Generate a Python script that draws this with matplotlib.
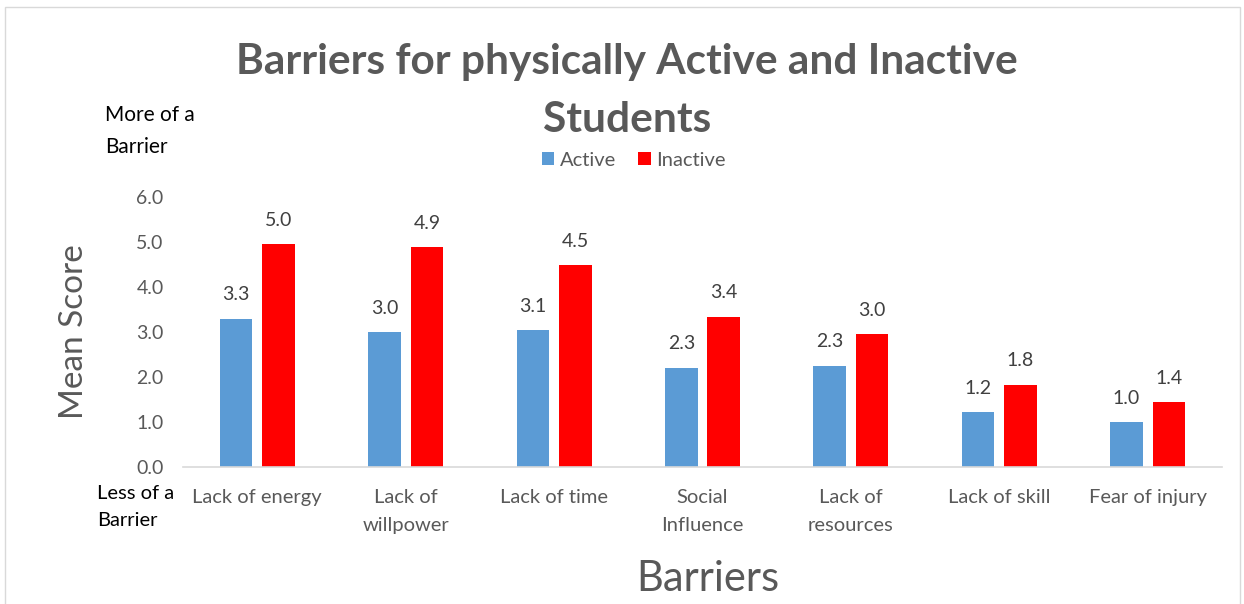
import matplotlib.pyplot as plt
import numpy as np
from matplotlib.patches import Rectangle

plt.rcParams['font.family'] = ['Lato', 'DejaVu Sans']

barriers = ['Lack of energy', 'Lack of\nwillpower', 'Lack of time', 'Social\nInfluence',
            'Lack of\nresources', 'Lack of skill', 'Fear of injury']
active = [3.30, 2.99, 3.04, 2.21, 2.25, 1.22, 1.00]
inactive = [4.96, 4.88, 4.49, 3.34, 2.95, 1.83, 1.44]
active_labels = ['3.3', '3.0', '3.1', '2.3', '2.3', '1.2', '1.0']
inactive_labels = ['5.0', '4.9', '4.5', '3.4', '3.0', '1.8', '1.4']

blue = '#5B9BD5'
red = '#FF0000'
grey = '#595959'

fig = plt.figure(figsize=(12.44, 6.04), dpi=100)
fig.patches.append(Rectangle((5/1244, -0.01), 1235/1244, 1 - 7/604 + 0.01, transform=fig.transFigure,
                             fill=False, edgecolor='#d9d9d9', linewidth=1))
ax = fig.add_axes([183/1244, 1 - 467/604, (1222 - 183)/1244, 270/604])

x = np.arange(len(barriers))
w = 0.22
b1 = ax.bar(x - 0.143, active, w, color=blue, label='Active')
b2 = ax.bar(x + 0.143, inactive, w, color=red, label='Inactive')

for bars, labs in [(b1, active_labels), (b2, inactive_labels)]:
    for bar, lab in zip(bars, labs):
        ax.annotate(lab, (bar.get_x() + bar.get_width()/2, bar.get_height()),
                    xytext=(0, 11), textcoords='offset points', ha='center', va='bottom',
                    fontsize=14, color='#404040')

ax.set_xlim(-0.5, 6.5)
ax.set_ylim(0, 6)
ax.set_yticks(np.arange(0, 6.1, 1.0))
ax.set_yticklabels(['%.1f' % v for v in np.arange(0, 6.1, 1.0)])
ax.set_xticks(x)
ax.set_xticklabels(barriers, linespacing=1.75)
ax.tick_params(axis='y', length=0, pad=14, labelsize=14, labelcolor=grey)
ax.tick_params(axis='x', length=0, pad=16, labelsize=14.5, labelcolor=grey)
for s in ['top', 'right', 'left']:
    ax.spines[s].set_visible(False)
ax.spines['bottom'].set_color('#d9d9d9')
ax.spines['bottom'].set_linewidth(1.2)

ax.set_ylabel('Mean Score', fontsize=24, color=grey)
ax.yaxis.set_label_coords(-0.09, 0.5)
ax.set_xlabel('Barriers', fontsize=30, color=grey)
ax.xaxis.set_label_coords(0.505, -0.345)

fig.text(0.504, 1 - 91/604, 'Barriers for physically Active and Inactive\nStudents', ha='center',
         va='center', fontsize=30.5, fontweight='bold', color=grey, linespacing=1.62)
fig.text(105/1244, 1 - 131/604, 'More of a\nBarrier', ha='left', va='center', fontsize=15,
         color='black', linespacing=1.75)
fig.text(97/1244, 1 - 507/604, 'Less of a\nBarrier', ha='left', va='center', fontsize=14.5,
         color='black', linespacing=1.7)

ax.legend(loc='center', bbox_to_anchor=(634/1244, 1 - 160/604), bbox_transform=fig.transFigure,
          ncol=2, frameon=False, fontsize=14.5, handlelength=0.6, handleheight=0.6,
          handletextpad=0.3, columnspacing=1.1, labelcolor=grey)

fig.savefig('out.png', dpi=100)
